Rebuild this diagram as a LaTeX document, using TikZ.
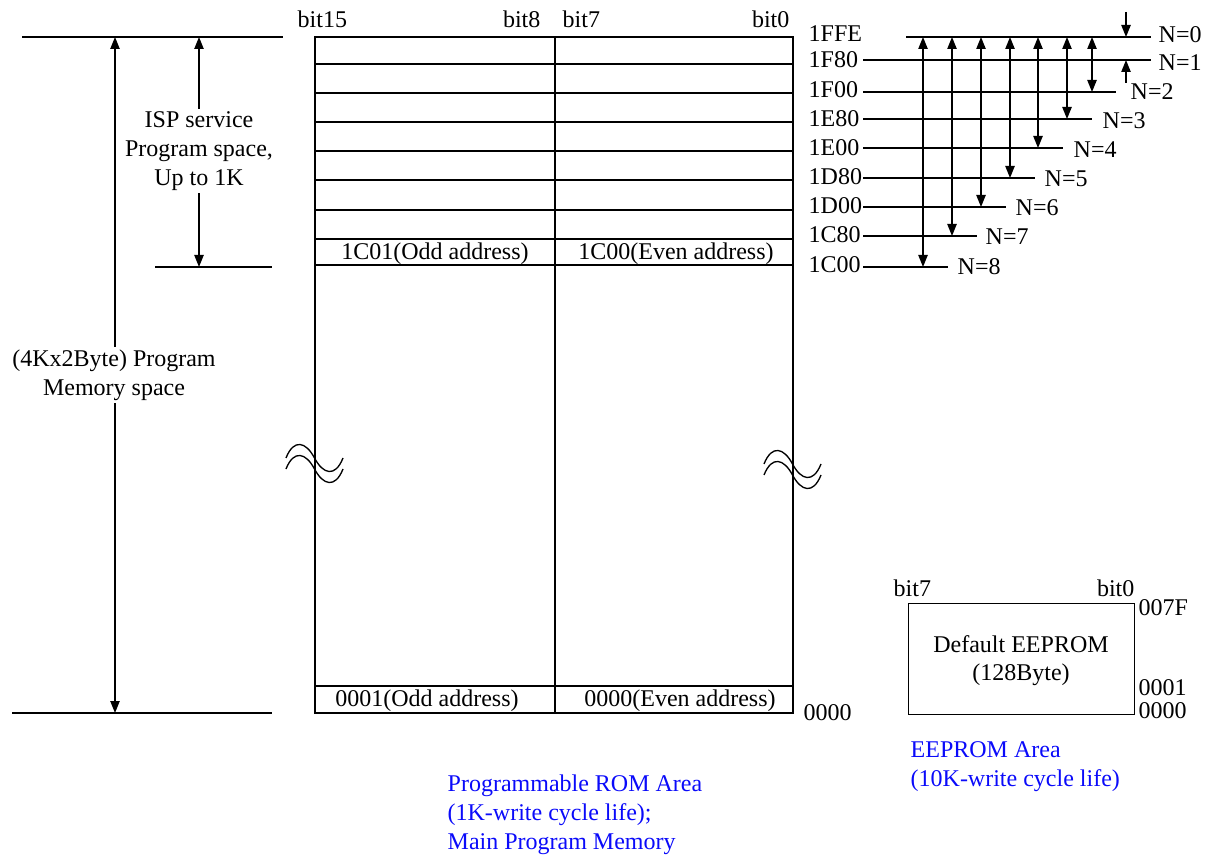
\documentclass[tikz,border=0pt]{standalone}
\usepackage{fontspec}
\setmainfont{Liberation Serif}
\usetikzlibrary{arrows.meta}
\definecolor{lblue}{RGB}{10,10,250}
\begin{document}
\begin{tikzpicture}[x=0.75pt,y=-0.75pt,line width=1pt,
  txt/.style={inner sep=0pt,font=\fontsize{18}{21.75}\selectfont},
  lbl/.style={txt,align=center},
  tip/.tip={Triangle[length=9pt,width=7pt]},
  arr/.style={-tip},
  darr/.style={tip-tip},
  blu/.style={txt,text=lblue,anchor=base west},
  gap/.style={lbl,fill=white,inner sep=2pt},
  brk/.pic={
    \draw (-28.5,0) .. controls (-20.5,-20) and (-8.5,-16) .. (0,0) .. controls (8.5,16) and (20.5,20) .. (28.5,0);
    \draw (-28.5,11) .. controls (-20.5,-9) and (-8.5,-5) .. (0,11) .. controls (8.5,27) and (20.5,31) .. (28.5,11);
  }]
\useasboundingbox (0,0) rectangle (1216,855);

% ---------------- main program memory table ----------------
\draw (315,37) rectangle (793,713);
\draw (555,37) -- (555,713);
\foreach \yy in {64,93,122,151,180,210,239,265,686}
  \draw (315,\yy) -- (793,\yy);

\node[txt,anchor=base west] (b15) at (297,28) {bit15};
\node[txt,anchor=base east] (b8) at (541,28) {bit8};
\node[txt,anchor=base west] (b7) at (562,28) {bit7};
\node[txt,anchor=base east] (b0) at (790,28) {bit0};

\node[txt,anchor=base] (r1c01) at (435,260) {1C01(Odd address)};
\node[txt,anchor=base] (r1c00) at (676,260) {1C00(Even address)};
\node[txt,anchor=base] (r0001) at (427,706) {0001(Odd address)};
\node[txt,anchor=base] (r0000) at (680,706) {0000(Even address)};
\node[txt,anchor=base west] (a0000) at (803,720) {0000};

\pic at (314.5,458) {brk};
\pic at (792.5,464) {brk};

% ---------------- left dimension arrows ----------------
\coordinate (topL) at (22,37);
\coordinate (topR) at (283,37);
\coordinate (ispL) at (155,267);
\coordinate (ispR) at (272,267);
\coordinate (botL) at (12,713);
\coordinate (botR) at (272,713);
\draw (topL) -- (topR);
\draw (ispL) -- (ispR);
\draw (botL) -- (botR);

\coordinate (bigT) at (115,37);
\coordinate (bigB) at (115,713);
\coordinate (ispT) at (199,37);
\coordinate (ispB) at (199,267);
\draw[darr] (bigB) -- (bigT);
\draw[darr] (ispB) -- (ispT);
\node[gap] (bigtxt) at (114,375) {(4Kx2Byte) Program\\Memory space};
\node[gap] (isptxt) at (199,151) {ISP service\\Program space,\\Up to 1K};

% ---------------- right address scale ----------------
\foreach \lab/\yy in {1FFE/42,1F80/68,1F00/98,1E80/127,1E00/156,1D80/185,1D00/214,1C80/243,1C00/273}
  \node[txt,anchor=base west] (ad\lab) at (808,\yy) {\lab};

\coordinate (l0a) at (906,37);  \coordinate (l0b) at (1151,37);
\coordinate (l1a) at (863,60);  \coordinate (l1b) at (1151,60);
\coordinate (l2a) at (863,92);  \coordinate (l2b) at (1116,92);
\coordinate (l3a) at (863,119); \coordinate (l3b) at (1092,119);
\coordinate (l4a) at (863,148); \coordinate (l4b) at (1063,148);
\coordinate (l5a) at (863,178); \coordinate (l5b) at (1035,178);
\coordinate (l6a) at (863,207); \coordinate (l6b) at (1006,207);
\coordinate (l7a) at (863,236); \coordinate (l7b) at (977,236);
\coordinate (l8a) at (863,267); \coordinate (l8b) at (948,267);
\foreach \k in {0,...,8}
  \draw (l\k a) -- (l\k b);

\node[txt,anchor=base west] (n0) at (1158,43) {N=0};
\node[txt,anchor=base west] (n1) at (1158,71) {N=1};
\node[txt,anchor=base west] (n2) at (1130,100) {N=2};
\node[txt,anchor=base west] (n3) at (1102,129) {N=3};
\node[txt,anchor=base west] (n4) at (1073,158) {N=4};
\node[txt,anchor=base west] (n5) at (1044,187) {N=5};
\node[txt,anchor=base west] (n6) at (1015,216) {N=6};
\node[txt,anchor=base west] (n7) at (985,245) {N=7};
\node[txt,anchor=base west] (n8) at (957,275) {N=8};

\foreach \xx/\yy/\k in {1092/92/2,1067/119/3,1038/148/4,1010/178/5,981/207/6,952/236/7,923/267/8}{
  \coordinate (vt\k) at (\xx,37);
  \coordinate (vb\k) at (\xx,\yy);
  \draw[darr] (vt\k) -- (vb\k);
}
\coordinate (s0a) at (1126,12);  \coordinate (s0b) at (1126,37);
\coordinate (s1a) at (1126,83);  \coordinate (s1b) at (1126,60);
\draw[arr] (s0a) -- (s0b);
\draw[arr] (s1a) -- (s1b);

% ---------------- EEPROM ----------------
\node[draw,minimum width=226*0.75pt,minimum height=111*0.75pt,inner sep=0pt,anchor=north west] (ee) at (908,603) {};
\node[txt,anchor=base] (ee1) at (1021,652) {Default EEPROM};
\node[txt,anchor=base] (ee2) at (1021,680) {(128Byte)};
\node[txt,anchor=base west] (eb7) at (893,596) {bit7};
\node[txt,anchor=base east] (eb0) at (1135,596) {bit0};
\node[txt,anchor=base west] (e7f) at (1138,615) {007F};
\node[txt,anchor=base west] (e01) at (1138,695) {0001};
\node[txt,anchor=base west] (e00) at (1138,718) {0000};

% ---------------- blue captions ----------------
\node[blu] (ea1) at (910,757) {EEPROM Area};
\node[blu] (ea2) at (910,786) {(10K-write cycle life)};
\node[blu] (pa1) at (447,791) {Programmable ROM Area};
\node[blu] (pa2) at (447,820) {(1K-write cycle life);};
\node[blu] (pa3) at (447,849) {Main Program Memory};
\end{tikzpicture}
\end{document}
